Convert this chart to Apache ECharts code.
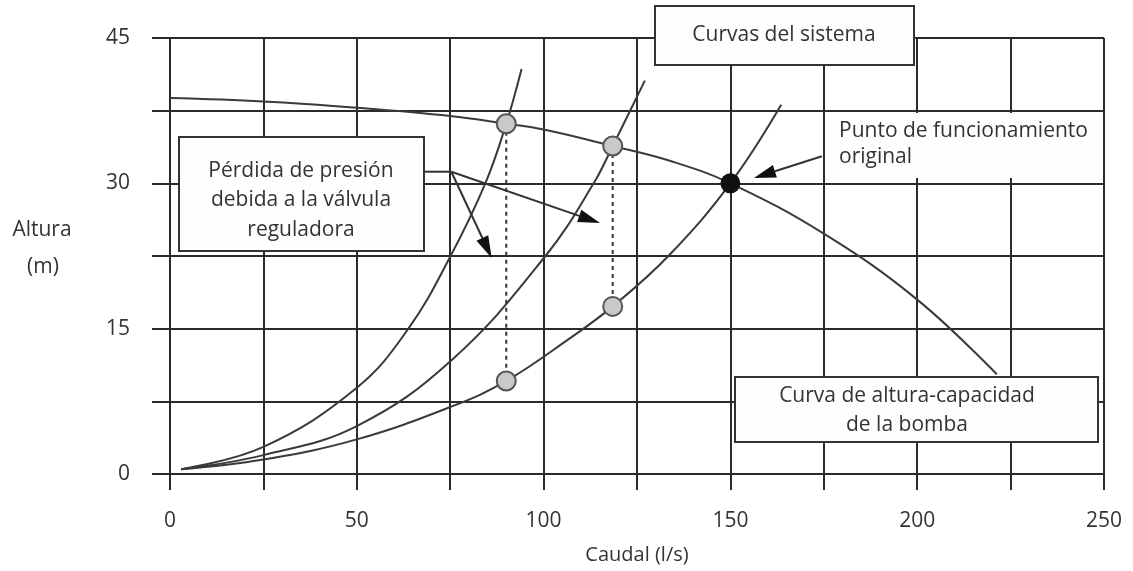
<!DOCTYPE html>
<html><head><meta charset="utf-8">
<script src="https://cdn.jsdelivr.net/npm/echarts@6/dist/echarts.min.js"></script>
<style>html,body{margin:0;padding:0;background:#fff;} #c{width:1133px;height:571px;}</style>
</head><body><div id="c"></div>
<script>
// ---- data ----
const xTickLabels = [0, 50, 100, 150, 200, 250];
const yTickLabels = [0, 15, 30, 45];
const pumpCurve = [[0,38.8],[25,38.45],[50,37.8],[75,36.95],[90,36.15],[100,35.55],[118.5,33.85],[134,32.3],[150,30],[175,24.8],[200,18.0],[221.3,10.3]];
const systemA = [[3,0.5],[25,2.8],[50,8.9],[63.8,15],[75.1,22.5],[84.4,30],[90,36.15],[94.1,41.8]];
const systemB = [[3,0.5],[25,1.95],[50,4.95],[75.5,11.8],[100.5,22.5],[113.4,30],[118.5,33.85],[127.1,40.6]];
const systemC = [[3,0.5],[25,1.5],[50,3.57],[75.6,7.0],[90,9.6],[107,14.0],[118.5,17.3],[133.4,22.5],[150,30],[163.6,38.1]];
const throttledPoints = [[90,36.15],[118.5,33.85],[90,9.6],[118.5,17.3]];
const originalPoint = [[150,30]];
const dropLine1 = [[90,36.15],[90,9.6]];
const dropLine2 = [[118.5,33.85],[118.5,17.3]];
// annotation arrows in data coordinates
const arrowOriginal = [[174.5,32.8],[156.3,30.55]];
const valveConnector = [[67.9,31.2],[75.3,31.2]];
const valveArrow1 = [[75.3,31.2],[86.1,22.3]];
const valveArrow2 = [[75.3,31.2],[115.1,25.9]];

const FONT = '21px "Open Sans", sans-serif';
const TXT = '#333';
const GRID = '#2a2a2a';
const CURVE = '#3a3a3a';

const chart = echarts.init(document.getElementById('c'), null, {renderer:'canvas'});
const lineSeries = (data) => ({type:'line', data, smooth:0.4, showSymbol:false, symbol:'none',
  lineStyle:{color:CURVE, width:2}, z:3, silent:true, animation:false});

chart.setOption({
  animation:false,
  backgroundColor:'#fff',
  grid:{left:170, right:29, top:38, bottom:97, containLabel:false},
  xAxis:{type:'value', min:0, max:250, interval:25,
    name:'Caudal (l/s)', nameLocation:'middle', nameGap:71,
    nameTextStyle:{fontFamily:'Open Sans', fontSize:20, color:TXT},
    axisLine:{show:true, lineStyle:{color:GRID, width:2}},
    axisTick:{show:true, length:16, lineStyle:{color:GRID, width:2}},
    splitLine:{show:true, lineStyle:{color:GRID, width:2}},
    axisLabel:{margin:37, fontFamily:'Open Sans', fontSize:21, color:TXT,
      formatter:v => xTickLabels.includes(v) ? String(v) : ''}},
  yAxis:{type:'value', min:0, max:45, interval:7.5,
    axisLine:{show:true, lineStyle:{color:GRID, width:2}},
    axisTick:{show:true, length:18, lineStyle:{color:GRID, width:2}},
    splitLine:{show:true, lineStyle:{color:GRID, width:2}},
    axisLabel:{margin:40, fontFamily:'Open Sans', fontSize:21, color:TXT,
      formatter:v => yTickLabels.includes(v) ? String(v) : ''}},
  series:[
    lineSeries(pumpCurve), lineSeries(systemA), lineSeries(systemB), lineSeries(systemC),
    {type:'line', data:dropLine1, showSymbol:false, symbol:'none', lineStyle:{color:'#333', width:2, type:[4,4]}, z:3},
    {type:'line', data:dropLine2, showSymbol:false, symbol:'none', lineStyle:{color:'#333', width:2, type:[4,4]}, z:3},
    {type:'scatter', data:throttledPoints, symbolSize:19, itemStyle:{color:'#c9c9c9', borderColor:'#555', borderWidth:2, opacity:1}, z:5},
    {type:'scatter', data:originalPoint, symbolSize:20, itemStyle:{color:'#111', opacity:1}, z:5}
  ]
});

function px(p){ return chart.convertToPixel({gridIndex:0}, p); }
function arrow(seg){
  const a = px(seg[0]), b = px(seg[1]);
  const dx=b[0]-a[0], dy=b[1]-a[1], L=Math.hypot(dx,dy), ux=dx/L, uy=dy/L;
  const hl=22, hw=6.5;
  const bx=b[0]-ux*hl, by=b[1]-uy*hl;
  return [
    {type:'line', z:120, shape:{x1:a[0], y1:a[1], x2:bx, y2:by}, style:{stroke:'#333', lineWidth:2}},
    {type:'polygon', z:121, shape:{points:[[b[0],b[1]],[bx-uy*hw, by+ux*hw],[bx+uy*hw, by-ux*hw]]}, style:{fill:'#111'}}
  ];
}
function segLine(seg){
  const a = px(seg[0]), b = px(seg[1]);
  return {type:'line', z:120, shape:{x1:a[0], y1:a[1], x2:b[0], y2:b[1]}, style:{stroke:'#333', lineWidth:2}};
}
function box(x,y,w,h){ return {type:'rect', z:100, shape:{x,y,width:w,height:h}, style:{fill:'#fefefc', stroke:'#333', lineWidth:2}}; }
function txt(x,y,t,align){ return {type:'text', z:130, x, y, style:{text:t, font:FONT, fill:TXT, align:align||'center', verticalAlign:'middle'}}; }

const g = [
  box(655,6,259,59), txt(784,35,'Curvas del sistema'),
  box(179,137,245,114), txt(301,171,'Pérdida de presión'), txt(301,200,'debida a la válvula'), txt(301,230,'reguladora'),
  box(735,377,363,65), txt(907,396,'Curva de altura-capacidad'), txt(907,425,'de la bomba'),
  {type:'rect', z:100, shape:{x:829,y:113,width:272,height:65}, style:{fill:'#fefefc'}},
  txt(839,131,'Punto de funcionamiento','left'), txt(839,157,'original','left'),
  txt(42,230,'Altura'), txt(43,267,'(m)'),
  segLine(valveConnector)
].concat(arrow(arrowOriginal), arrow(valveArrow1), arrow(valveArrow2));
chart.setOption({graphic:g});
</script></body></html>
